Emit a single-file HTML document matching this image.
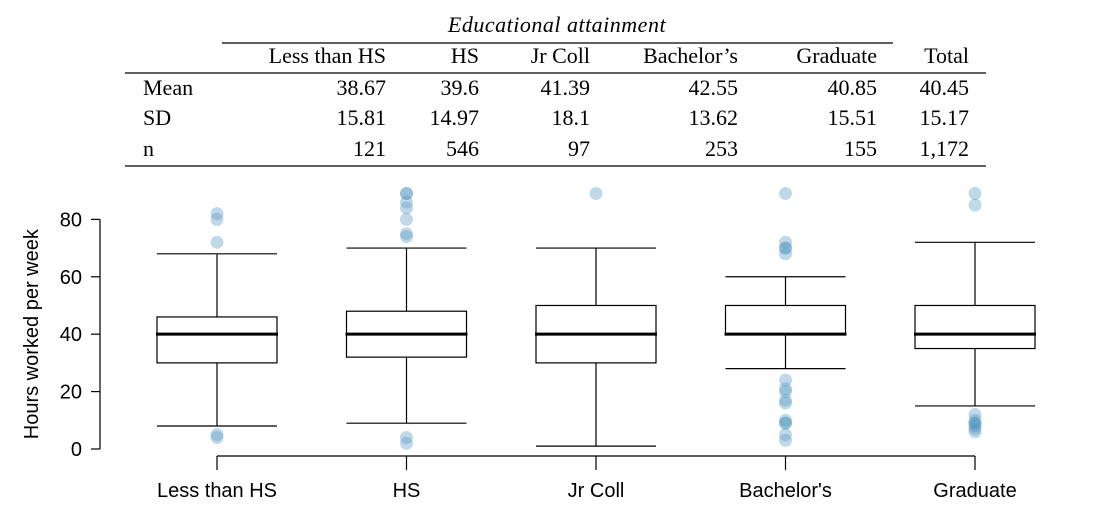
<!DOCTYPE html>
<html><head><meta charset="utf-8"><style>
body{margin:0;background:#fff;width:1102px;height:523px;overflow:hidden}
</style></head><body>
<svg width="1102" height="523">
<g id="table" style="font-family:'Liberation Serif',serif">
<text x="557" y="32" font-size="22" font-style="italic" text-anchor="middle" letter-spacing="0.5">Educational attainment</text>
<line x1="222" y1="43" x2="893" y2="43" stroke="#000" stroke-width="1.2"/>
<line x1="125" y1="73" x2="986" y2="73" stroke="#000" stroke-width="1.2"/>
<line x1="125" y1="166" x2="986" y2="166" stroke="#000" stroke-width="1.2"/>
</g>
<g id="plot" style="font-family:'Liberation Sans',sans-serif"></g>
</svg>
<script>
const cats=["Less than HS","HS","Jr Coll","Bachelor's","Graduate"];
const means=["38.67","39.6","41.39","42.55","40.85","40.45"];
const sds=["15.81","14.97","18.1","13.62","15.51","15.17"];
const ns=["121","546","97","253","155","1,172"];
const lowW=[8,9,1,28,15];
const q1=[30,32,30,40,35];
const med=[40,40,40,40,40];
const q3=[46,48,50,50,50];
const highW=[68,70,70,60,72];
const outliers=[[82,80,72,5,4],[89,89,86,84,80,75,74,4,2],[89],[89,72,70,70,68,24,21,20,17,16,10,9,9,5,3],[89,85,12,10,9,9,8,7,6]];
const yTicks=[0,20,40,60,80];
const NS="http://www.w3.org/2000/svg";
const tbl=document.getElementById('table');
const plot=document.getElementById('plot');
function mk(tag,attrs,parent,txt){const e=document.createElementNS(NS,tag);for(const k in attrs)e.setAttribute(k,attrs[k]);if(txt!==undefined)e.textContent=txt;parent.appendChild(e);return e;}
const colR=[386,479,590,738,877,969];
const hdrs=["Less than HS","HS","Jr Coll","Bachelor\u2019s","Graduate","Total"];
hdrs.forEach((h,i)=>{const t=mk('text',{x:colR[i],y:63,'font-size':22,'text-anchor':'end'},tbl,h);

});
[["Mean",means,95],["SD",sds,125],["n",ns,156]].forEach(r=>{
const l=mk('text',{x:143,y:r[2],'font-size':22},tbl,r[0]);


r[1].forEach((v,i)=>{const t=mk('text',{x:colR[i],y:r[2],'font-size':22,'text-anchor':'end'},tbl,v);

});});
const y=v=>449-v*2.8705;
const x=i=>217+i*189.5;
mk('line',{x1:100,y1:y(0),x2:100,y2:y(80),stroke:'#000','stroke-width':1.2},plot);
yTicks.forEach(t=>{mk('line',{x1:91,y1:y(t),x2:100,y2:y(t),stroke:'#000','stroke-width':1.2},plot);
const e=mk('text',{x:82,y:y(t)+7,'font-size':20,'text-anchor':'end'},plot,t);

});
const yt=mk('text',{x:0,y:0,'font-size':20,'text-anchor':'middle',transform:'translate(38,'+y(40)+') rotate(-90)'},plot,'Hours worked per week');


mk('line',{x1:x(0),y1:456,x2:x(4),y2:456,stroke:'#000','stroke-width':1.2},plot);
cats.forEach((c,i)=>{
const cx=x(i),hw=60;
mk('line',{x1:cx,y1:456,x2:cx,y2:470,stroke:'#000','stroke-width':1.2},plot);
const lb=mk('text',{x:cx,y:497,'font-size':20,'text-anchor':'middle'},plot,c);


const g=mk('g',{},plot);


mk('line',{x1:cx,y1:y(lowW[i]),x2:cx,y2:y(q1[i]),stroke:'#000','stroke-width':1.2},g);
mk('line',{x1:cx,y1:y(q3[i]),x2:cx,y2:y(highW[i]),stroke:'#000','stroke-width':1.2},g);
mk('line',{x1:cx-hw,y1:y(lowW[i]),x2:cx+hw,y2:y(lowW[i]),stroke:'#000','stroke-width':1.2},g);
mk('line',{x1:cx-hw,y1:y(highW[i]),x2:cx+hw,y2:y(highW[i]),stroke:'#000','stroke-width':1.2},g);
mk('rect',{x:cx-hw,y:y(q3[i]),width:2*hw,height:y(q1[i])-y(q3[i]),fill:'none',stroke:'#000','stroke-width':1.2},g);
mk('line',{x1:cx-hw-1,y1:y(med[i]),x2:cx+hw+1,y2:y(med[i]),stroke:'#000','stroke-width':3},g);
outliers[i].forEach(o=>{const p=mk('circle',{cx:cx,cy:y(o),r:6.5,fill:'#4a93bd','fill-opacity':0.35},g);

});
});
</script>
</body></html>
